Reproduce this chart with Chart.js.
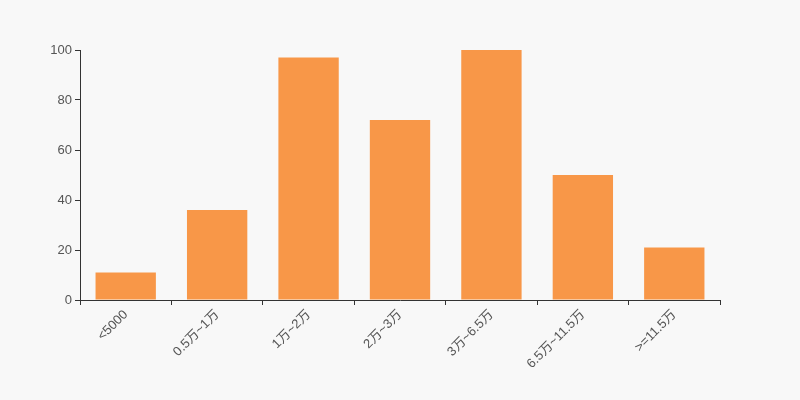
<!DOCTYPE html>
<html>
<head>
<meta charset="utf-8">
<script src="https://cdn.jsdelivr.net/npm/chart.js@4"></script>
<style>
  html, body { margin: 0; padding: 0; background: #f8f8f8; }
  #wrap { width: 800px; height: 400px; }
</style>
</head>
<body>
<div id="wrap"><canvas id="salaryChart" width="800" height="400"></canvas></div>
<script>
// 区间分布
const categories = ["<5000", "0.5万~1万", "1万~2万", "2万~3万", "3万~6.5万", "6.5万~11.5万", ">=11.5万"];
const counts = [11, 36, 97, 72, 100, 50, 21];
const yTicks = [0, 20, 40, 60, 80, 100];

const fontFamily = "'Liberation Sans', Arial, 'Noto Sans CJK SC', sans-serif";

const ctx = document.getElementById("salaryChart").getContext("2d");
new Chart(ctx, {
  type: "bar",
  data: {
    labels: categories,
    datasets: [{
      data: counts,
      backgroundColor: "#f89748",
      borderWidth: 0,
      categoryPercentage: 0.66,
      barPercentage: 1
    }]
  },
  options: {
    responsive: false,
    animation: false,
    layout: { padding: { top: 50, right: 80, left: 0, bottom: 0 } },
    plugins: { legend: { display: false }, tooltip: { enabled: false } },
    scales: {
      x: {
        offset: true,
        grid: { offset: true, drawOnChartArea: false, tickLength: 5, color: "#333" },
        border: { color: "#333" },
        ticks: {
          color: "#555",
          font: { family: fontFamily, size: 13 },
          minRotation: 45,
          maxRotation: 45,
          padding: 2
        },
        afterFit: (s) => { s.height = 100; }
      },
      y: {
        min: 0,
        max: 100,
        grid: { drawOnChartArea: false, tickLength: 5, color: "#333" },
        border: { color: "#333" },
        afterBuildTicks: (s) => { s.ticks = yTicks.map(v => ({ value: v })); },
        ticks: {
          color: "#555",
          font: { family: fontFamily, size: 13 },
          padding: 3
        },
        afterFit: (s) => { s.width = 80; }
      }
    }
  }
});
</script>
</body>
</html>
